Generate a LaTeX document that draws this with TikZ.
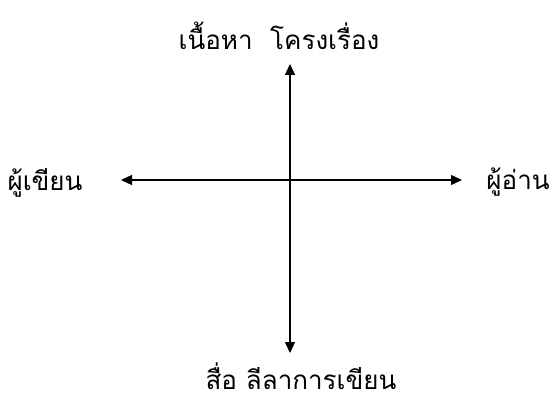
\documentclass[tikz,border=0pt]{standalone}
\usepackage{fontspec}
\newfontfamily\thaifont[Script=Thai]{Loma}
\usetikzlibrary{arrows.meta}
\begin{document}
\begin{tikzpicture}[x=1pt,y=-1pt,
  lbl/.style={font=\thaifont\fontsize{26}{30}\selectfont, inner sep=0pt},
  arr/.style={line width=1.3pt, -{Triangle[length=11pt,width=10pt]}}]
\useasboundingbox (0,0) rectangle (555,401);
\coordinate (c) at (290,180);
\coordinate (t) at (290,64);
\coordinate (b) at (290,353);
\coordinate (l) at (121,180);
\coordinate (r) at (462,180);
\draw[arr] (c) -- (t);
\draw[arr] (c) -- (b);
\draw[arr] (c) -- (l);
\draw[arr] (c) -- (r);
\node[lbl] (top) at (279,36) {เนื้อหา\ \ โครงเรื่อง};
\node[lbl] (bot) at (301,376) {สื่อ ลีลาการเขียน};
\node[lbl] (lw) at (45,183) {ผู้เขียน};
\node[lbl] (rd) at (518,182) {ผู้อ่าน};
\end{tikzpicture}
\end{document}
